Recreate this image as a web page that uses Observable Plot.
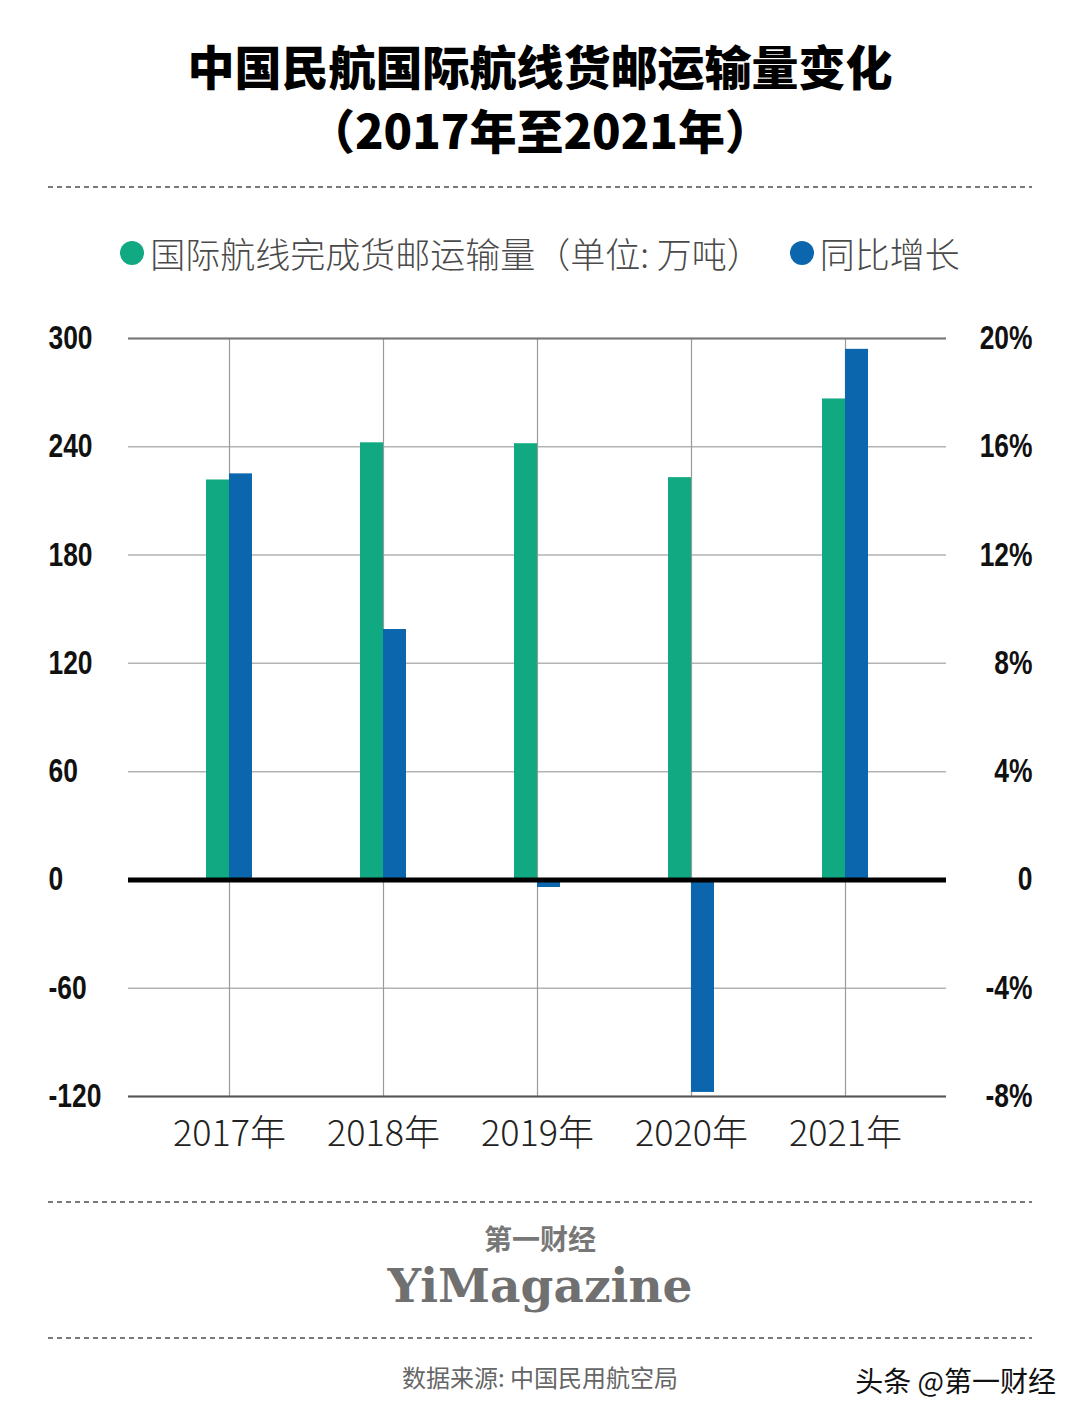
<!DOCTYPE html>
<html>
<head>
<meta charset="utf-8">
<script src="https://cdn.jsdelivr.net/npm/d3@7"></script>
<script src="https://cdn.jsdelivr.net/npm/@observablehq/plot@0.6"></script>
<style>
  html, body { margin: 0; padding: 0; background: #fff; }
  #page { position: relative; width: 1080px; height: 1423px; background: #fff; font-family: "Noto Sans CJK SC", "Noto Sans", sans-serif; overflow: hidden; }
  .abs { position: absolute; left: 0; width: 1080px; text-align: center; }
  .title { font-weight: 900; font-size: 47px; color: #000; line-height: 1; }
  .dash { position: absolute; left: 48px; width: 984px; height: 2px;
          background: repeating-linear-gradient(to right, #7a7a7a 0 5px, transparent 5px 9px); }
  #legend { position: absolute; top: 230px; left: 0; width: 1080px; display: flex; justify-content: center; align-items: center;
            font-size: 35px; color: #4a4a4a; font-weight: 300; line-height: 46px; }
  .dot { display: inline-block; width: 24px; height: 24px; border-radius: 50%; margin-right: 6px; }
  #chart { position: absolute; left: 0; top: 300px; }
  .logo1 { font-size: 28px; font-weight: 700; color: #777; line-height: 28px; height: 28px; }
  .logo2 { font-family: "DejaVu Serif", serif; font-weight: 700; font-size: 47px; color: #707070; line-height: 40px; height: 40px; }
  .source { font-size: 24px; color: #666; line-height: 1; }
  .wm { position: absolute; right: 24px; top: 1366px; font-size: 28px; color: #111; line-height: 1;
        text-shadow: 0 0 2px #fff, 0 0 2px #fff; }
</style>
</head>
<body>
<div id="page">
  <div class="abs title" style="top:41px;">中国民航国际航线货邮运输量变化</div>
  <div class="abs title" style="top:105px;">（2017年至2021年）</div>
  <div class="dash" style="top:186px;"></div>
  <div id="legend"></div>
  <div id="chart"></div>
  <div class="dash" style="top:1201px;"></div>
  <div class="abs logo1" style="top:1224px;">第一财经</div>
  <div class="abs logo2" style="top:1266px;">YiMagazine</div>
  <div class="dash" style="top:1337px;"></div>
  <div class="abs source" style="top:1365px;">数据来源: 中国民用航空局</div>
  <div class="wm">头条 @第一财经</div>
</div>
<script>
// ---- data ----
const years = ["2017年", "2018年", "2019年", "2020年", "2021年"];
const cargo = [221.6, 242.2, 241.7, 222.9, 266.5];      // 万吨
const growth = [15.0, 9.25, -0.28, -7.85, 19.6];         // %
const leftTicks = [300, 240, 180, 120, 60, 0, -60, -120];
const leftTickLabels = ["300", "240", "180", "120", "60", "0", "-60", "-120"];
const rightTickLabels = ["20%", "16%", "12%", "8%", "4%", "0", "-4%", "-8%"];
const seriesNames = ["国际航线完成货邮运输量（单位: 万吨）", "同比增长"];
const colors = ["#10a982", "#0b66ad"];

// growth (%) mapped onto the left axis: 20% <-> 300
const pctToLeft = 300 / 20;

const rows = years.map((y, i) => ({year: y, cargo: cargo[i], growth: growth[i]}));

// legend
const legend = document.getElementById("legend");
seriesNames.forEach((name, i) => {
  const dot = document.createElement("span");
  dot.className = "dot";
  dot.style.background = colors[i];
  if (i > 0) dot.style.marginLeft = "28px";
  const t = document.createElement("span");
  t.textContent = name;
  legend.appendChild(dot);
  legend.appendChild(t);
});

const numFont = "'Liberation Sans', Arial, sans-serif";

const chart = Plot.plot({
  width: 1080,
  height: 880,
  marginLeft: 128,
  marginRight: 134,
  marginTop: 38,
  marginBottom: 84,
  style: {background: "transparent", fontFamily: "'Noto Sans CJK SC', sans-serif", color: "#111", overflow: "visible"},
  x: {domain: years, paddingInner: 0.7013, paddingOuter: 0.5, align: 0.5, label: null},
  y: {domain: [-120, 300], label: null},
  marks: [
    Plot.gridY(leftTicks, {stroke: "#b3b3b3", strokeOpacity: 1, strokeWidth: 1.5}),
    Plot.gridX({stroke: "#9a9a9a", strokeOpacity: 1, strokeWidth: 1.2}),
    Plot.ruleY([300], {stroke: "#777", strokeWidth: 2}),
    Plot.ruleY([-120], {stroke: "#555", strokeWidth: 2}),
    Plot.barY(rows, {x: "year", y: "cargo", fill: colors[0], insetRight: 23}),
    Plot.barY(rows, {x: "year", y: d => d.growth * pctToLeft, fill: colors[1], insetLeft: 23}),
    Plot.ruleY([0], {stroke: "#000", strokeWidth: 5}),
    Plot.axisY({anchor: "left", ticks: leftTicks, tickSize: 0, tickPadding: 80, textAnchor: "start",
      tickFormat: d => leftTickLabels[leftTicks.indexOf(d)],
      fontSize: 33, fontWeight: "bold", fontFamily: numFont, fill: "#111", label: null}),
    Plot.axisY({anchor: "right", ticks: leftTicks, tickSize: 0, tickPadding: 86, textAnchor: "end",
      tickFormat: d => rightTickLabels[leftTicks.indexOf(d)],
      fontSize: 33, fontWeight: "bold", fontFamily: numFont, fill: "#111", label: null}),
    Plot.axisX({anchor: "bottom", tickSize: 0, tickPadding: 24, fontSize: 36, fontWeight: 300,
      fontFamily: "'Noto Sans CJK SC', sans-serif", fill: "#222", label: null})
  ]
});
// condensed look for the y tick labels
chart.querySelectorAll('g[aria-label="y-axis tick label"] text').forEach(t => {
  const tr = t.getAttribute("transform") || "";
  t.setAttribute("transform", tr + " scale(0.8,1)");
});
document.getElementById("chart").appendChild(chart);
</script>
</body>
</html>
